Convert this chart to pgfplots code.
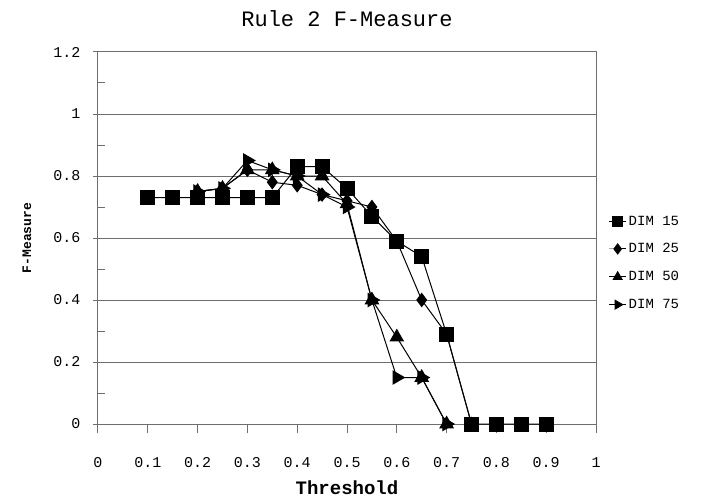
\documentclass[border=0pt]{standalone}
\usepackage{fontspec}
\setmainfont{Liberation Mono}
\usepackage{pgfplots}
\pgfplotsset{compat=1.18}
\definecolor{gridgray}{RGB}{110,110,110}
\begin{document}
\begin{tikzpicture}
\begin{axis}[
  scale only axis,
  width=498pt, height=372pt,
  xmin=0, xmax=1, ymin=0, ymax=1.2,
  xtick={0,0.1,...,1.0},
  xticklabels={0,0.1,0.2,0.3,0.4,0.5,0.6,0.7,0.8,0.9,1},
  ytick={0,0.2,0.4,0.6,0.8,1,1.2},
  yticklabels={0,0.2,0.4,0.6,0.8,1,1.2},
  minor y tick num=1,
  tick pos=left,
  ymajorgrids=true,
  grid style={gridgray, line width=1pt},
  axis line style={gridgray, line width=1pt},
  tick style={gridgray, line width=1pt},
  tick align=outside,
  major tick length=9pt,
  minor tick length=7pt,
  every major y tick/.append style={xshift=4.5pt},
  every minor y tick/.append style={xshift=7pt},
  ticklabel style={font=\fontsize{15}{17}\selectfont},
  xticklabel style={anchor=center, yshift=-30pt},
  yticklabel style={anchor=east, xshift=-5pt},
  /pgf/number format/assume math mode=true,
  title={Rule 2 F-Measure},
  title style={font=\fontsize{22}{25}\selectfont, at={(axis description cs:0.5,1)}, anchor=center, yshift=27pt},
  xlabel={Threshold},
  ylabel={F-Measure},
  xlabel style={font=\fontsize{19}{22}\selectfont\bfseries, at={(axis description cs:0.5,0)}, anchor=center, yshift=-64pt},
  ylabel style={font=\fontsize{13}{15}\selectfont\bfseries, at={(axis description cs:0,0.5)}, anchor=center, yshift=71pt},
  legend style={draw=none, fill=none, at={(1.025,0.433)}, anchor=west,
    font=\fontsize{14}{16}\selectfont, row sep=13pt, inner sep=0pt,
    legend cell align=left},
  legend image post style={line width=1pt, mark size=5pt},
  every axis plot/.append style={black, line width=1pt},
]
\addplot[mark=square*, mark size=7pt] coordinates {
 (0.1,0.73) (0.15,0.73) (0.2,0.73) (0.25,0.73) (0.3,0.73) (0.35,0.73)
 (0.4,0.83) (0.45,0.83) (0.5,0.76) (0.55,0.67) (0.6,0.59) (0.65,0.54)
 (0.7,0.29) (0.75,0) (0.8,0) (0.85,0) (0.9,0)};
\addlegendentry{DIM 15}
\addplot[mark=diamond*, mark size=6.5pt] coordinates {
 (0.2,0.75) (0.25,0.76) (0.3,0.82) (0.35,0.78) (0.4,0.77) (0.45,0.74)
 (0.5,0.72) (0.55,0.70) (0.6,0.59) (0.65,0.40) (0.7,0.29) (0.75,0)};
\addlegendentry{DIM 25}
\addplot[mark=triangle*, mark size=7.5pt] coordinates {
 (0.2,0.75) (0.25,0.76) (0.3,0.82) (0.35,0.82) (0.4,0.80) (0.45,0.80)
 (0.5,0.71) (0.55,0.40) (0.6,0.28) (0.65,0.15) (0.7,0)};
\addlegendentry{DIM 50}
\addplot[mark=triangle*, mark size=7.5pt, mark options={rotate=-90}] coordinates {
 (0.2,0.75) (0.25,0.76) (0.3,0.85) (0.35,0.82) (0.4,0.80) (0.45,0.74)
 (0.5,0.70) (0.55,0.40) (0.6,0.15) (0.65,0.15) (0.7,0)};
\addlegendentry{DIM 75}
\end{axis}
\path ([xshift=-98pt,yshift=-73pt]current axis.south west) rectangle ([xshift=110pt,yshift=52pt]current axis.north east);
\end{tikzpicture}
\end{document}
